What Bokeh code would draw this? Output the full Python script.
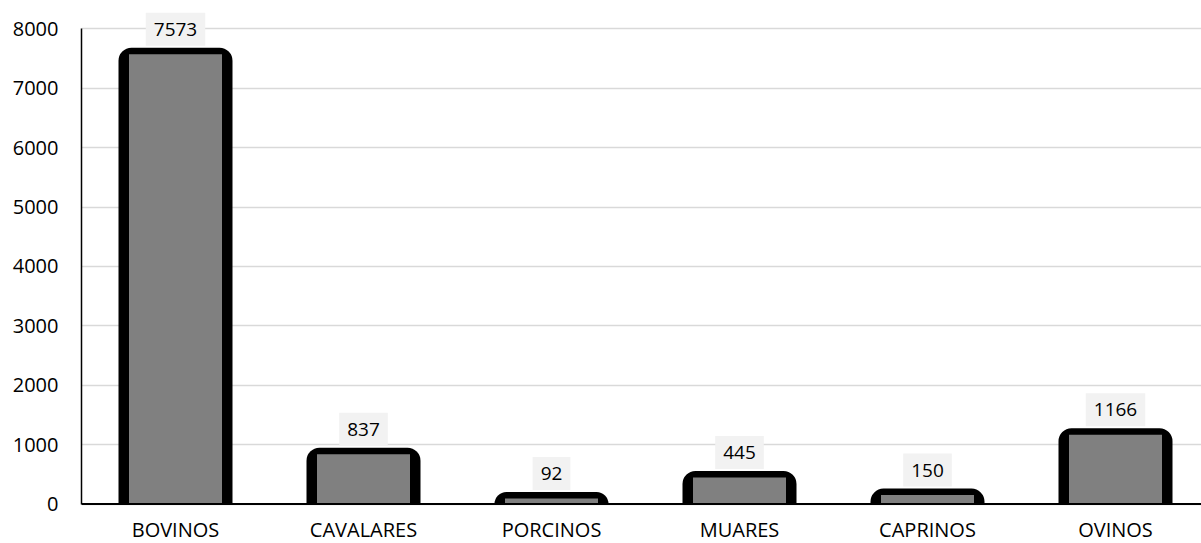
from bokeh.plotting import figure
from bokeh.models import ColumnDataSource, Label, Range1d, FixedTicker, Span
from bokeh.core.properties import value
from bokeh.embed import file_html
from bokeh.resources import INLINE

categories = ["BOVINOS", "CAVALARES", "PORCINOS", "MUARES", "CAPRINOS", "OVINOS"]
values = [7573, 837, 92, 445, 150, 1166]
y_ticks = [0, 1000, 2000, 3000, 4000, 5000, 6000, 7000, 8000]

FONT = "Open Sans"
W, H = 1201, 543
LEFT = 81
ZERO_PX = 503.5      # screen row of value 0
MAX_PX = 28.3        # screen row of value 8000
frame_w = W - LEFT
cat_px = 188.0
y_max = 8000

x_pos = [i + 0.5 for i in range(len(categories))]
px_to_y = y_max / (ZERO_PX - MAX_PX)
top_pad = 6.5 * px_to_y

src = ColumnDataSource(dict(
    x=x_pos,
    v=values,
    outer=[v + top_pad for v in values],
    cat=categories,
    zero=[0] * len(categories),
))

p = figure(width=W, height=H, output_backend="svg", toolbar_location=None,
           x_range=Range1d(0, frame_w / cat_px),
           y_range=Range1d(-(H - ZERO_PX) * px_to_y, y_max + MAX_PX * px_to_y),
           min_border_left=LEFT, min_border_top=0, min_border_bottom=0,
           min_border_right=0)
p.outline_line_color = None
p.background_fill_color = "white"
p.border_fill_color = "white"
p.xaxis.visible = False

p.xgrid.grid_line_color = None
p.ygrid.grid_line_color = "#d9d9d9"
p.ygrid.grid_line_width = 1.3

p.vbar(x="x", top="outer", bottom=0, width=114 / cat_px, source=src,
       fill_color="black", line_color=None, border_radius=(13, 13, 0, 0))
p.vbar(x="x", top="v", bottom=0, width=93 / cat_px, source=src,
       fill_color="#808080", line_color=None)

# category axis line
p.add_layout(Span(location=0, dimension="width", line_color="black", line_width=2))

# category labels
p.text(x="x", y="zero", text="cat", source=src, text_align="center",
       text_baseline="alphabetic", y_offset=25, text_font=value(FONT),
       text_font_size="20px", text_color="black")

for xv, v in zip(x_pos, values):
    p.add_layout(Label(x=xv, y=v, text=str(v), text_align="center",
                       text_baseline="bottom", y_offset=8.5, text_font=FONT,
                       text_font_size="19px", text_color="black",
                       background_fill_color="#f2f2f2", padding=(8, 10)))

p.yaxis.ticker = FixedTicker(ticks=y_ticks)
p.yaxis.bounds = (0, y_max)
p.yaxis.major_tick_out = 0
p.yaxis.major_tick_in = 0
p.yaxis.minor_tick_line_color = None
p.yaxis.major_label_standoff = 23
p.yaxis.axis_line_color = "black"
p.yaxis.axis_line_width = 1.5
p.yaxis.major_label_text_font = FONT
p.yaxis.major_label_text_font_size = "20px"
p.yaxis.major_label_text_color = "black"

open("out.html", "w").write(file_html(p, INLINE))
